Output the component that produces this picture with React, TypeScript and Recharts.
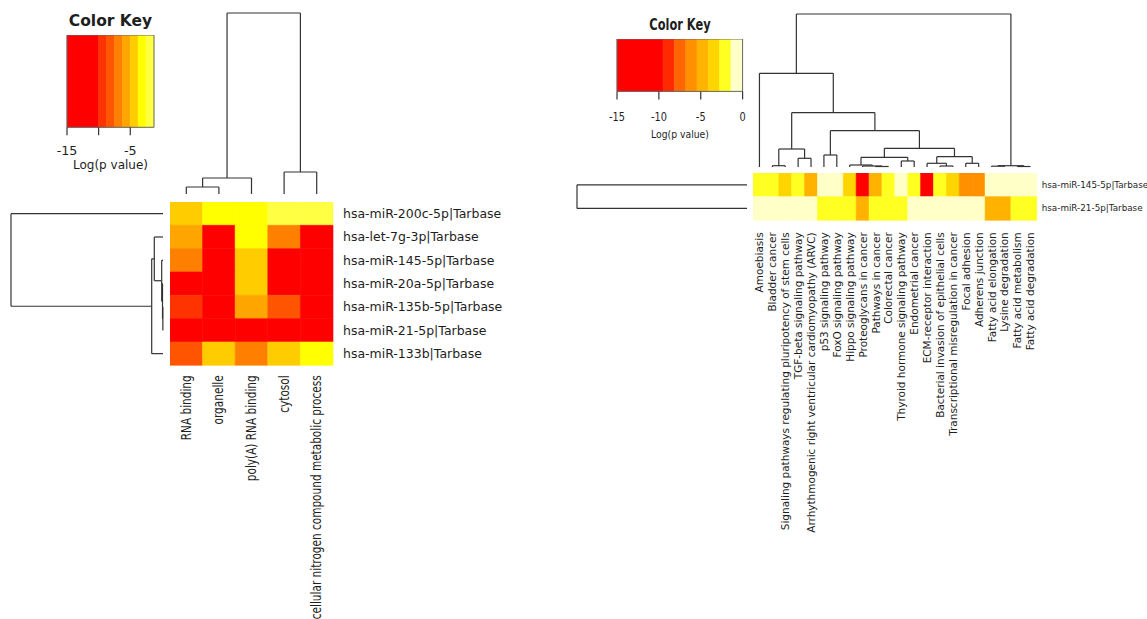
import React from "react";
import {
  ComposedChart,
  XAxis,
  YAxis,
  ReferenceArea,
  ReferenceLine,
  Scatter,
} from "recharts";

/* ================================================================
   Two heatmaps (heatmap.2 style) of miRNA enrichment, Log(p value),
   with colour keys and hierarchical-clustering dendrograms.
   ================================================================ */

/* ---------- left panel: GO terms ---------- */

const leftCols = [
  "RNA binding",
  "organelle",
  "poly(A) RNA binding",
  "cytosol",
  "cellular nitrogen compound metabolic process",
];

const leftRows = [
  "hsa-miR-200c-5p|Tarbase",
  "hsa-let-7g-3p|Tarbase",
  "hsa-miR-145-5p|Tarbase",
  "hsa-miR-20a-5p|Tarbase",
  "hsa-miR-135b-5p|Tarbase",
  "hsa-miR-21-5p|Tarbase",
  "hsa-miR-133b|Tarbase",
];

// Log(p value), one row per miRNA, one column per GO term
const leftLogP = [
  [-4.4, -3.1, -3.0, -2.0, -1.9],
  [-5.7, -14.2, -3.2, -7.0, -13.5],
  [-6.8, -13.9, -4.3, -12.8, -14.6],
  [-11.9, -14.8, -4.5, -12.2, -13.1],
  [-9.2, -13.4, -5.5, -8.0, -12.7],
  [-14.1, -15.0, -11.2, -13.6, -14.4],
  [-8.2, -4.8, -6.6, -4.2, -3.0],
];

const leftKeyBreaks = [-15, -10, -8.75, -7.5, -6.25, -5, -3.75, -2.5, -1.25];
const leftKeyColors = [
  "#FF0000",
  "#FF3300",
  "#FF5500",
  "#FF8000",
  "#FFA500",
  "#FFCC00",
  "#FFFF00",
  "#FFFF44",
];
const leftKeyTicks = [-15, -10, -5];
const leftKeyTickLabels = ["-15", "", "-5"];

// hclust style: negative = leaf (1-based), positive = earlier merge
const leftColMerge = [[-1, -2], [1, -3], [-4, -5], [2, 3]];
const leftColHeight = [7, 16, 22, 181];
const leftRowMerge = [[-5, -6], [-4, 1], [-3, 2], [-2, 3], [-7, 4], [-1, 5]];
const leftRowHeight = [0.15, 0.5, 1.3, 8.7, 11.3, 152];

/* ---------- right panel: KEGG pathways ---------- */

const rightCols = [
  "Amoebiasis",
  "Bladder cancer",
  "Signaling pathways regulating pluripotency of stem cells",
  "TGF-beta signaling pathway",
  "Arrhythmogenic right ventricular cardiomyopathy (ARVC)",
  "p53 signaling pathway",
  "FoxO signaling pathway",
  "Hippo signaling pathway",
  "Proteoglycans in cancer",
  "Pathways in cancer",
  "Colorectal cancer",
  "Thyroid hormone signaling pathway",
  "Endometrial cancer",
  "ECM-receptor interaction",
  "Bacterial invasion of epithelial cells",
  "Transcriptional misregulation in cancer",
  "Focal adhesion",
  "Adherens junction",
  "Fatty acid elongation",
  "Lysine degradation",
  "Fatty acid metabolism",
  "Fatty acid degradation",
];

const rightRows = ["hsa-miR-145-5p|Tarbase", "hsa-miR-21-5p|Tarbase"];

const rightLogP = [
  [
    -2.2, -2.0, -3.5, -2.3, -4.9, -0.6, -0.8, -3.3, -11.5, -4.7, -2.4,
    -0.9, -1.8, -10.8, -2.2, -3.6, -6.0, -6.2, -0.5, -0.4, -0.6, -0.5,
  ],
  [
    -0.4, -0.5, -0.3, -0.6, -0.5, -2.0, -1.9, -2.5, -4.6, -2.3, -2.4,
    -2.1, -0.7, -0.5, -0.6, -0.8, -0.4, -0.5, -4.9, -5.0, -2.2, -2.6,
  ],
];

const rightKeyBreaks = [-15, -9.5, -8.15, -6.8, -5.45, -4.1, -2.75, -1.4, 0];
const rightKeyColors = [
  "#FF0000",
  "#FF2A00",
  "#FF6600",
  "#FF9000",
  "#FFB300",
  "#FFD500",
  "#FFFF22",
  "#FFFFC8",
];
const rightKeyTicks = [-15, -10, -5, 0];
const rightKeyTickLabels = ["-15", "-10", "-5", "0"];

const rightColMerge = [
  [-2, -3], [-4, -5], [1, 2], [-6, -7], [-10, -11], [-9, 5], [-8, 6],
  [-12, -13], [7, 8], [-15, -16], [-14, 10], [-17, -18], [11, 12], [9, 13],
  [4, 14], [3, 15], [-1, 16], [-19, -20], [-21, -22], [18, 19], [17, 20],
];
const rightColHeight = [
  1.3, 8.7, 18, 12, 0.5, 1.0, 2, 6, 9.7, 1, 3.7, 3.7, 10.3, 18.7, 36.3,
  54.3, 93.7, 0.8, 0.5, 1.3, 153,
];
const rightRowMerge = [[-1, -2]];
const rightRowHeight = [170];

/* ---------- helpers ---------- */

const FONT = "'DejaVu Sans', 'Liberation Sans', sans-serif";
const INK = "#1e1e1e";
const LINE = "#333";

const colorFor = (v: number, breaks: number[], colors: string[]) => {
  for (let i = 0; i < colors.length; i++) {
    if (v < breaks[i + 1]) return colors[i];
  }
  return colors[colors.length - 1];
};

type Seg = [number, number, number, number]; // pos1, h1, pos2, h2

const dendroSegments = (merge: number[][], height: number[]) => {
  const pos: number[] = [];
  const segs: Seg[] = [];
  const at = (id: number) =>
    id < 0 ? { p: -id - 0.5, h: 0 } : { p: pos[id - 1], h: height[id - 1] };
  merge.forEach(([a, b], i) => {
    const A = at(a);
    const B = at(b);
    const H = height[i];
    segs.push([A.p, A.h, A.p, H], [B.p, B.h, B.p, H], [A.p, H, B.p, H]);
    pos.push((A.p + B.p) / 2);
  });
  return { segs, nodes: pos.map((p, i) => ({ p, h: height[i] })) };
};

const Empty = () => <g />;

/* ---------- colour key ---------- */

interface KeyProps {
  breaks: number[];
  colors: string[];
  ticks: number[];
  labels: string[];
  left: number;
  top: number;
  w: number;
  h: number;
  tickGap: number;
  font: number;
  sx: number;
}

const ColorKey: React.FC<KeyProps> = ({
  breaks, colors, ticks, labels, left, top, w, h, tickGap, font, sx,
}) => {
  const lo = breaks[0];
  const hi = breaks[breaks.length - 1];
  return (
    <div style={{ position: "absolute", left: left - 20, top }}>
      <ComposedChart
        width={w + 40}
        height={h + 40}
        margin={{ top: 0, right: 20, bottom: 0, left: 20 }}
      >
        <XAxis
          type="number"
          dataKey="x"
          domain={[lo, hi]}
          allowDataOverflow
          ticks={ticks}
          interval={0}
          height={40}
          axisLine={false}
          tickSize={8}
          tickMargin={tickGap}
          tickLine={{ stroke: LINE, strokeWidth: 1.2 }}
          tick={(p: any) => (
            <g transform={`translate(${p.x},${p.y}) scale(${sx},1)`}>
              <text
                textAnchor="middle"
                dy="0.71em"
                fontSize={font}
                fontFamily={FONT}
                fill={INK}
              >
                {labels[ticks.indexOf(p.payload.value)]}
              </text>
            </g>
          )}
        />
        <YAxis type="number" dataKey="y" domain={[0, 1]} allowDataOverflow hide />
        {colors.map((c, i) => (
          <ReferenceArea
            key={i}
            x1={breaks[i]}
            x2={breaks[i + 1]}
            y1={0}
            y2={1}
            fill={c}
            fillOpacity={1}
            stroke={c}
            strokeWidth={0.5}
            ifOverflow="visible"
          />
        ))}
        <ReferenceArea
          x1={lo}
          x2={hi}
          y1={0}
          y2={1}
          fill="none"
          stroke="#666"
          strokeWidth={1}
          ifOverflow="visible"
        />
        <Scatter
          data={breaks.map((b) => ({ x: b, y: 0.5 }))}
          isAnimationActive={false}
          shape={Empty}
        />
      </ComposedChart>
    </div>
  );
};

/* ---------- heatmap ---------- */

interface HeatProps {
  rows: string[];
  cols: string[];
  values: number[][];
  breaks: number[];
  colors: string[];
  left: number;
  top: number;
  w: number;
  h: number;
  rowFont: number;
  colFont: number;
  colStretch: number; // squeeze along the reading direction of column labels
  rowGap: number;
  colGap: number;
}

const Heatmap: React.FC<HeatProps> = ({
  rows, cols, values, breaks, colors, left, top, w, h,
  rowFont, colFont, colStretch, rowGap, colGap,
}) => {
  const cells = values.flatMap((row, r) =>
    row.map((v, c) => ({ r, c, v, x: c + 0.5, y: r + 0.5 }))
  );
  const rowAxisW = 1147 - (left + w);
  const colAxisH = 640 - (top + h);
  return (
    <div style={{ position: "absolute", left, top }}>
      <ComposedChart
        width={w + rowAxisW}
        height={h + colAxisH}
        margin={{ top: 0, right: 0, bottom: 0, left: 0 }}
      >
        <XAxis
          type="number"
          dataKey="x"
          domain={[0, cols.length]}
          allowDataOverflow
          ticks={cols.map((_, i) => i + 0.5)}
          interval={0}
          height={colAxisH}
          axisLine={false}
          tickLine={false}
          tickSize={0}
          tickMargin={colGap}
          tick={(p: any) => (
            <g transform={`translate(${p.x},${p.y}) rotate(-90) scale(${colStretch},1)`}>
              <text
                textAnchor="end"
                dominantBaseline="central"
                fontSize={colFont}
                fontFamily={FONT}
                fill={INK}
              >
                {cols[Math.round(p.payload.value - 0.5)]}
              </text>
            </g>
          )}
        />
        <YAxis
          type="number"
          dataKey="y"
          orientation="right"
          reversed
          domain={[0, rows.length]}
          allowDataOverflow
          ticks={rows.map((_, i) => i + 0.5)}
          interval={0}
          width={rowAxisW}
          axisLine={false}
          tickLine={false}
          tickSize={0}
          tickMargin={rowGap}
          tick={(p: any) => (
            <text
              x={p.x}
              y={p.y}
              textAnchor="start"
              dominantBaseline="central"
              fontSize={rowFont}
              fontFamily={FONT}
              fill={INK}
            >
              {rows[Math.round(p.payload.value - 0.5)]}
            </text>
          )}
        />
        {cells.map((cell) => {
          const fill = colorFor(cell.v, breaks, colors);
          return (
            <ReferenceArea
              key={`${cell.r}-${cell.c}`}
              x1={cell.c}
              x2={cell.c + 1}
              y1={cell.r}
              y2={cell.r + 1}
              fill={fill}
              fillOpacity={1}
              stroke={fill}
              strokeWidth={0.6}
              ifOverflow="visible"
            />
          );
        })}
        <Scatter data={cells} isAnimationActive={false} shape={Empty} />
      </ComposedChart>
    </div>
  );
};

/* ---------- dendrogram ---------- */

interface DendroProps {
  merge: number[][];
  height: number[];
  n: number;
  horizontal?: boolean; // true = row dendrogram, root on the left
  left: number;
  top: number;
  w: number;
  h: number;
}

const Dendrogram: React.FC<DendroProps> = ({
  merge, height, n, horizontal, left, top, w, h,
}) => {
  const { segs, nodes } = dendroSegments(merge, height);
  const maxH = Math.max(...height);
  const pt = (p: number, hh: number) => (horizontal ? { x: hh, y: p } : { x: p, y: hh });
  const pad = 2;
  return (
    <div style={{ position: "absolute", left: left - pad, top: top - pad }}>
      <ComposedChart
        width={w + 2 * pad}
        height={h + 2 * pad}
        margin={{ top: pad, right: pad, bottom: pad, left: pad }}
      >
        {horizontal ? (
          <XAxis type="number" dataKey="x" domain={[0, maxH]} reversed allowDataOverflow hide />
        ) : (
          <XAxis type="number" dataKey="x" domain={[0, n]} allowDataOverflow hide />
        )}
        {horizontal ? (
          <YAxis type="number" dataKey="y" domain={[0, n]} reversed allowDataOverflow hide />
        ) : (
          <YAxis type="number" dataKey="y" domain={[0, maxH]} allowDataOverflow hide />
        )}
        {segs.map((s, i) => (
          <ReferenceLine
            key={i}
            segment={[pt(s[0], s[1]), pt(s[2], s[3])]}
            stroke={LINE}
            strokeWidth={1.2}
            ifOverflow="visible"
          />
        ))}
        <Scatter
          data={nodes.map((d) => pt(d.p, d.h))}
          isAnimationActive={false}
          shape={Empty}
        />
      </ComposedChart>
    </div>
  );
};

/* ---------- page ---------- */

const title = (
  text: string,
  x: number,
  y: number,
  size: number,
  bold: boolean,
  sx = 1
) => (
  <div
    style={{
      position: "absolute",
      left: x,
      top: y,
      transform: `translate(-50%, -50%) scaleX(${sx})`,
      fontSize: size,
      lineHeight: 1,
      fontWeight: bold ? 700 : 400,
      whiteSpace: "nowrap",
      color: INK,
    }}
  >
    {text}
  </div>
);

export default function App() {
  return (
    <div
      style={{
        position: "absolute",
        left: 0,
        top: 0,
        width: 1147,
        height: 619,
        overflow: "hidden",
        background: "#fff",
        fontFamily: FONT,
      }}
    >
      {/* left panel */}
      {title("Color Key", 110.5, 21.5, 15.5, true)}
      <ColorKey
        breaks={leftKeyBreaks}
        colors={leftKeyColors}
        ticks={leftKeyTicks}
        labels={leftKeyTickLabels}
        left={67.3}
        top={35}
        w={87}
        h={92.3}
        tickGap={11}
        font={12.7}
        sx={1}
      />
      {title("Log(p value)", 110.5, 165, 12, false)}
      <Dendrogram
        merge={leftColMerge}
        height={leftColHeight}
        n={leftCols.length}
        left={170}
        top={13}
        w={163}
        h={181}
      />
      <Dendrogram
        merge={leftRowMerge}
        height={leftRowHeight}
        n={leftRows.length}
        horizontal
        left={11}
        top={201.7}
        w={152}
        h={163.3}
      />
      <Heatmap
        rows={leftRows}
        cols={leftCols}
        values={leftLogP}
        breaks={leftKeyBreaks}
        colors={leftKeyColors}
        left={170}
        top={201.7}
        w={163}
        h={163.3}
        rowFont={12.5}
        colFont={13.5}
        colStretch={0.78}
        rowGap={10}
        colGap={10}
      />

      {/* right panel */}
      {title("Color Key", 679.7, 24.5, 15, true, 0.76)}
      <ColorKey
        breaks={rightKeyBreaks}
        colors={rightKeyColors}
        ticks={rightKeyTicks}
        labels={rightKeyTickLabels}
        left={616.7}
        top={39.3}
        w={125.6}
        h={52.4}
        tickGap={13}
        font={11.5}
        sx={0.85}
      />
      {title("Log(p value)", 679.5, 133.8, 10.5, false, 0.88)}
      <Dendrogram
        merge={rightColMerge}
        height={rightColHeight}
        n={rightCols.length}
        left={753.3}
        top={14}
        w={283.7}
        h={153}
      />
      <Dendrogram
        merge={rightRowMerge}
        height={rightRowHeight}
        n={rightRows.length}
        horizontal
        left={577}
        top={172.7}
        w={170}
        h={47.3}
      />
      <Heatmap
        rows={rightRows}
        cols={rightCols}
        values={rightLogP}
        breaks={rightKeyBreaks}
        colors={rightKeyColors}
        left={753.3}
        top={172.7}
        w={283.7}
        h={47.3}
        rowFont={8.8}
        colFont={10.5}
        colStretch={1}
        rowGap={5}
        colGap={12}
      />
    </div>
  );
}
